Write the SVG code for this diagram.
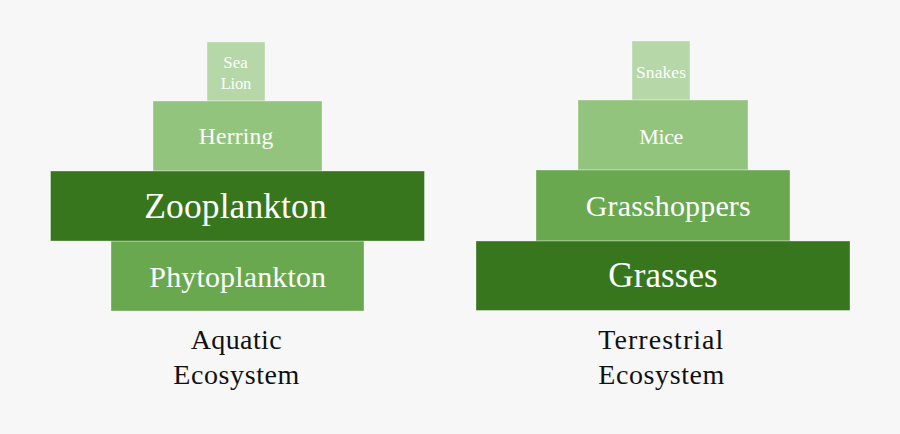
<svg xmlns="http://www.w3.org/2000/svg" width="900" height="434" viewBox="0 0 900 434">
<style>
.b{stroke:#ffffff;stroke-opacity:0.35;stroke-width:1}
.l1{fill:#b6d7a8}
.l2{fill:#93c47d}
.l3{fill:#6aa84f}
.l4{fill:#38761d}
text{font-family:"Liberation Serif","Times New Roman",serif;text-anchor:middle}
.w{fill:#ffffff}
.k{fill:#111111;font-size:28px}
</style>
<rect width="900" height="434" fill="#f7f7f7"/>
<g id="aquatic">
<g id="sea-lion"><rect class="b l1" x="207" y="42" width="58" height="59"/>
<text class="w" x="235.5" y="68.3" font-size="16.8" textLength="24.4" lengthAdjust="spacing">Sea</text>
<text class="w" x="236" y="89" font-size="16.5" textLength="30.5" lengthAdjust="spacing">Lion</text></g>
<g id="herring"><rect class="b l2" x="153" y="101" width="169" height="70"/>
<text class="w" x="236" y="144.3" font-size="23.5" textLength="74.3" lengthAdjust="spacing">Herring</text></g>
<g id="phytoplankton"><rect class="b l3" x="111" y="241" width="253" height="70"/>
<text class="w" x="237.7" y="286.7" font-size="30" textLength="176.7" lengthAdjust="spacing">Phytoplankton</text></g>
<g id="zooplankton"><rect class="b l4" x="50.5" y="171" width="374" height="70"/>
<text class="w" x="235.5" y="218.3" font-size="35.5" textLength="182.3" lengthAdjust="spacing">Zooplankton</text></g>
<g id="aquatic-label">
<text class="k" x="236.2" y="349" textLength="91" lengthAdjust="spacing">Aquatic</text>
<text class="k" x="236.3" y="384" textLength="126" lengthAdjust="spacing">Ecosystem</text></g>
</g>
<g id="terrestrial">
<g id="snakes"><rect class="b l1" x="632" y="41" width="58" height="59"/>
<text class="w" x="661" y="78.3" font-size="17.5" textLength="50" lengthAdjust="spacing">Snakes</text></g>
<g id="mice"><rect class="b l2" x="578" y="100" width="170" height="70"/>
<text class="w" x="661.3" y="144" font-size="22" textLength="44" lengthAdjust="spacing">Mice</text></g>
<g id="grasshoppers"><rect class="b l3" x="536" y="170" width="254" height="71"/>
<text class="w" x="668.2" y="215.7" font-size="30" textLength="165" lengthAdjust="spacing">Grasshoppers</text></g>
<g id="grasses"><rect class="b l4" x="476" y="241" width="374" height="69.5"/>
<text class="w" x="663" y="287.3" font-size="35" textLength="109.3" lengthAdjust="spacing">Grasses</text></g>
<g id="terrestrial-label">
<text class="k" x="660.8" y="349" textLength="125" lengthAdjust="spacing">Terrestrial</text>
<text class="k" x="661.3" y="384" textLength="126" lengthAdjust="spacing">Ecosystem</text></g>
</g>
<g id="connectors"/>
</svg>
